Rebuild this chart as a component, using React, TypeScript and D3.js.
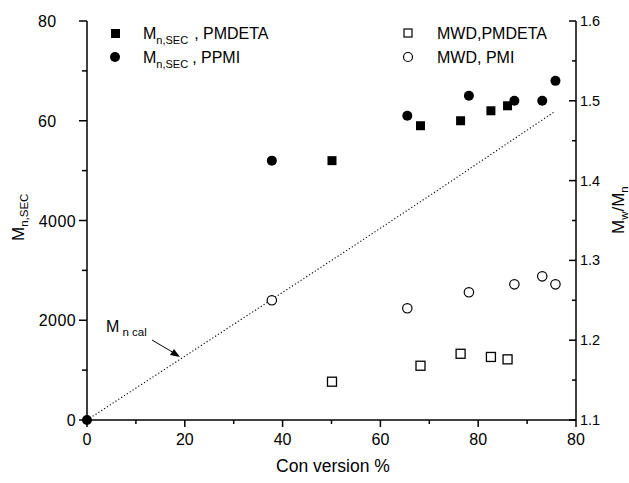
import React from "react";
import * as d3 from "d3";

// Conversion (%) for each series
const pmdetaConv = [50.1, 68.2, 76.4, 82.6, 86.0];
const pmdetaMn = [5200, 5900, 6000, 6200, 6300];
const pmdetaMwd = [1.148, 1.168, 1.183, 1.179, 1.176];

const ppmiConv = [0, 37.8, 65.5, 78.1, 87.4, 93.1, 95.8];
const ppmiMn = [0, 5200, 6100, 6500, 6400, 6400, 6800];

const pmiConv = [37.8, 65.5, 78.1, 87.4, 93.1, 95.8];
const pmiMwd = [1.25, 1.24, 1.26, 1.27, 1.28, 1.27];

const calConv = [0, 37, 54.2, 71.8, 95.5];
const calMn = [0, 2366, 3469, 4612, 6175];

const xTicks = [0, 20, 40, 60, 80, 100];
const xTickLabels = ["0", "20", "40", "60", "80", "80"];
const xMinor = [10, 30, 50, 70, 90];
const yLTicks = [0, 2000, 4000, 6000, 8000];
const yLTickLabels = ["0", "2000", "4000", "60", "80"];
const yLMinor = [1000, 3000, 5000, 7000];
const yRTicks = [1.1, 1.2, 1.3, 1.4, 1.5, 1.6];
const yRTickLabels = ["1.1", "1.2", "1.3", "1.4", "1.5", "1.6"];
const yRMinor = [1.15, 1.25, 1.35, 1.45, 1.55];

const FONT = "'Liberation Sans', Arial, sans-serif";

export default function App() {
  const W = 629, H = 483;
  const x = d3.scaleLinear().domain([0, 100]).range([87, 576]);
  const yL = d3.scaleLinear().domain([0, 8000]).range([420, 21]);
  const yR = d3.scaleLinear().domain([1.1, 1.6]).range([420, 21]);
  const x0 = x(0), x1 = x(100), yB = yL(0), yT = yL(8000);

  const calLine = d3.line<number>()
    .x((_, i) => x(calConv[i]))
    .y((d) => yL(d))(calMn) as string;

  const sq = 9;
  const r = 5;

  return (
    <svg width={W} height={H} style={{ position: "absolute", left: 0, top: 0, background: "#fff" }} fontFamily={FONT}>
      <rect width={W} height={H} fill="#fff" />
      {/* axes lines */}
      <g stroke="#000" strokeWidth={1.5} fill="none">
        <line x1={x0} y1={yT} x2={x0} y2={yB} />
        <line x1={x0} y1={yB} x2={x1} y2={yB} />
        <line x1={x1} y1={yT} x2={x1} y2={yB} />
        {xTicks.map((t) => <line key={"xt" + t} x1={x(t)} x2={x(t)} y1={yB} y2={yB + 7} />)}
        {xMinor.map((t) => <line key={"xm" + t} x1={x(t)} x2={x(t)} y1={yB} y2={yB + 4} />)}
        {yLTicks.map((t) => <line key={"ylt" + t} x1={x0 - 8} x2={x0} y1={yL(t)} y2={yL(t)} />)}
        {yLMinor.map((t) => <line key={"ylm" + t} x1={x0 - 5} x2={x0} y1={yL(t)} y2={yL(t)} />)}
        {yRTicks.map((t) => <line key={"yrt" + t} x1={x1 - 7} x2={x1} y1={yR(t)} y2={yR(t)} />)}
        {yRMinor.map((t) => <line key={"yrm" + t} x1={x1 - 4} x2={x1} y1={yR(t)} y2={yR(t)} />)}
      </g>
      {/* tick labels */}
      <g fontSize={16} fill="#000">
        {xTicks.map((t, i) => (
          <text key={"xl" + t} x={x(t)} y={yB + 25} textAnchor="middle">{xTickLabels[i]}</text>
        ))}
        {yLTicks.map((t, i) => {
          const lab = yLTickLabels[i];
          const truncated = t >= 6000;
          return (
            <text key={"yl" + t} x={truncated ? 38 : x0 - 11} y={yL(t) + 6}
              textAnchor={truncated ? "start" : "end"} letterSpacing={0.4}>{lab}</text>
          );
        })}
      </g>
      <g fontSize={14.5} fill="#000">
        {yRTicks.map((t, i) => (
          <text key={"yr" + t} x={x1 + 4} y={yR(t) + 5}>{yRTickLabels[i]}</text>
        ))}
      </g>
      {/* axis titles */}
      <text x={333} y={472} textAnchor="middle" fontSize={17.5}>Con version %</text>
      <text transform="translate(24,241) rotate(-90)" fontSize={17}>
        M<tspan fontSize={11.5} dy={4}>n,SEC</tspan>
      </text>
      <text transform="translate(624,234) rotate(-90)" fontSize={17}>
        M<tspan fontSize={11.5} dy={4}>w</tspan><tspan dy={-4}>/M</tspan><tspan fontSize={11.5} dy={4}>n</tspan>
      </text>

      {/* Mn cal line */}
      <path d={calLine} fill="none" stroke="#000" strokeWidth={1.1} strokeDasharray="1.2,2.2" />
      <text x={106} y={332} fontSize={16}>
        M<tspan fontSize={11.5} dy={4}> n cal</tspan>
      </text>
      <line x1={152} y1={340} x2={174} y2={353} stroke="#000" strokeWidth={1} />
      <path d="M180,357 L170,355 L174,349 Z" fill="#000" />

      {/* PMDETA Mn filled squares */}
      {pmdetaConv.map((c, i) => (
        <rect key={"ps" + i} x={x(c) - sq / 2} y={yL(pmdetaMn[i]) - sq / 2} width={sq} height={sq} fill="#000" />
      ))}
      {/* PPMI Mn filled circles */}
      {ppmiConv.map((c, i) => (
        <circle key={"pc" + i} cx={x(c)} cy={yL(ppmiMn[i])} r={r} fill="#000" />
      ))}
      {/* PMDETA MWD open squares */}
      {pmdetaConv.map((c, i) => (
        <rect key={"os" + i} x={x(c) - 4.5} y={yR(pmdetaMwd[i]) - 4.5} width={9} height={9}
          fill="#fff" stroke="#000" strokeWidth={1.3} />
      ))}
      {/* PMI MWD open circles */}
      {pmiConv.map((c, i) => (
        <circle key={"oc" + i} cx={x(c)} cy={yR(pmiMwd[i])} r={4.7} fill="#fff" stroke="#000" strokeWidth={1.2} />
      ))}

      {/* legends */}
      <rect x={111} y={29} width={9} height={9} fill="#000" />
      <text x={143} y={39} fontSize={16}>
        M<tspan fontSize={11} dy={5}>n,SEC</tspan><tspan dy={-5} dx={6}>, PMDETA</tspan>
      </text>
      <circle cx={115} cy={57} r={5} fill="#000" />
      <text x={143} y={63} fontSize={16}>
        M<tspan fontSize={11} dy={5}>n,SEC</tspan><tspan dy={-5} dx={4}>, PPMI</tspan>
      </text>
      <rect x={404} y={29} width={8} height={8} fill="#fff" stroke="#000" strokeWidth={1.2} />
      <text x={437} y={39} fontSize={16}>MWD,PMDETA</text>
      <circle cx={408} cy={57} r={4.5} fill="#fff" stroke="#000" strokeWidth={1.2} />
      <text x={437} y={63} fontSize={16}>MWD, PMI</text>
    </svg>
  );
}
